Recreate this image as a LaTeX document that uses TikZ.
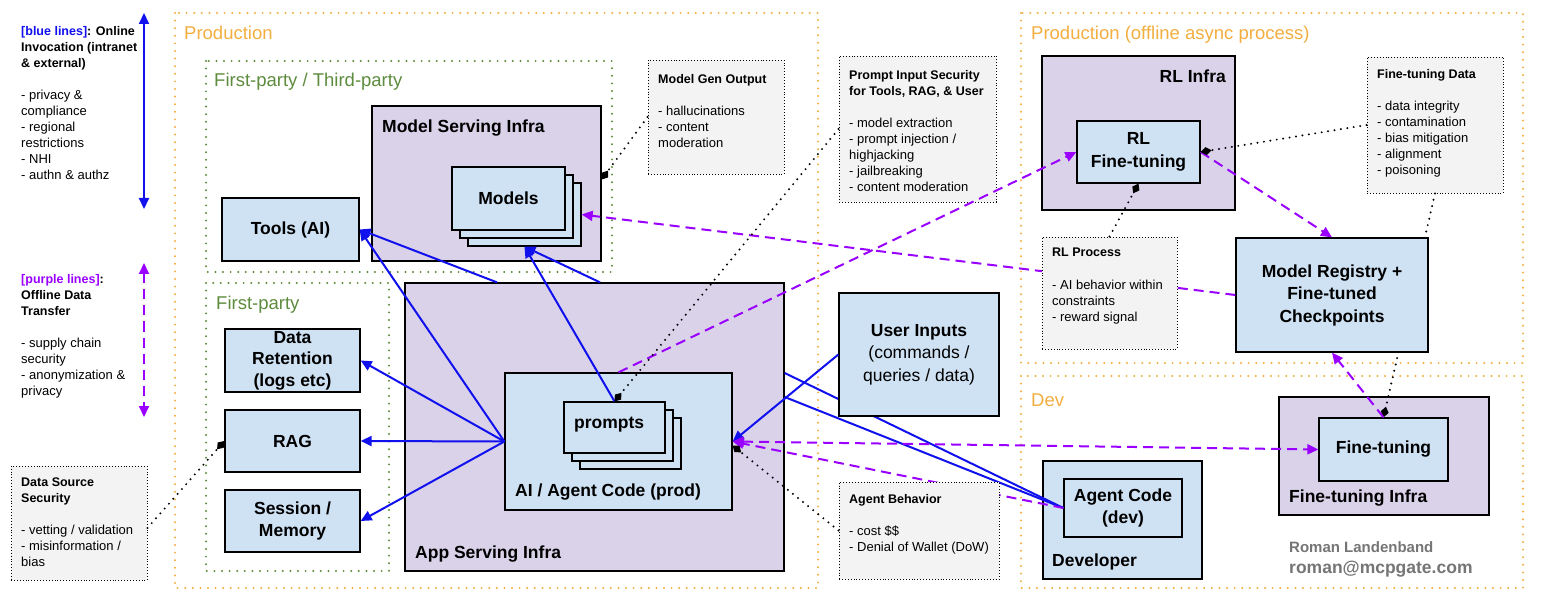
\documentclass[tikz,border=0pt]{standalone}
\usepackage{fontspec}
\setmainfont{Liberation Sans}
\usetikzlibrary{arrows.meta, calc}

\definecolor{infrablue}{HTML}{CFE2F3}
\definecolor{infrapurple}{HTML}{D9D2E9}
\definecolor{notegray}{HTML}{F3F3F3}
\definecolor{prodorange}{HTML}{F3AE40}
\definecolor{partygreen}{HTML}{5E8C3E}
\definecolor{onlineblue}{HTML}{1111EE}
\definecolor{offlinepurple}{HTML}{9900FF}
\definecolor{signgray}{HTML}{757575}

\newcommand\notehead[1]{{\fontsize{12.5}{16}\selectfont\bfseries #1}}

\begin{document}
\begin{tikzpicture}[x=1pt, y=-1pt, >={Triangle[length=11pt,width=10pt]},
  comp/.style={draw, line width=1.3pt, fill=infrablue, inner sep=0pt, align=center, font=\fontsize{17.5}{22.5}\selectfont\bfseries},
  infra/.style={draw, line width=1.3pt, fill=infrapurple, inner sep=0pt},
  boxlabel/.style={inner sep=0pt, font=\fontsize{17.5}{22.5}\selectfont\bfseries},
  zone/.style={line width=2.2pt, line cap=round, dash pattern=on 0pt off 7.6pt},
  zonelabel/.style={inner sep=0pt, anchor=base west, font=\fontsize{18.5}{22}\selectfont},
  note/.style={draw, fill=notegray, line width=0.9pt, dash pattern=on 0.9pt off 2pt, inner sep=0pt},
  notetext/.style={anchor=north west, inner sep=0pt, align=left, font=\fontsize{13}{16}\selectfont},
  online/.style={draw=onlineblue, line width=2pt},
  offline/.style={draw=offlinepurple, line width=2pt, dash pattern=on 10pt off 6pt},
  concern/.style={line width=2.2pt, line cap=round, dash pattern=on 0pt off 6.5pt, -{Diamond[length=11pt,width=8pt]}}]

\useasboundingbox (0,0) rectangle (1542,612);
\fill[white] (0,0) rectangle (1542,612);

% zones
\draw[zone, draw=prodorange] (175,13) rectangle (818,588);
\draw[zone, draw=prodorange] (1021,13) rectangle (1523,363);
\draw[zone, draw=prodorange] (1021,376) rectangle (1523,588);
\draw[zone, draw=partygreen] (206,61) rectangle (612,272);
\draw[zone, draw=partygreen] (206,283) rectangle (389,571);
\node[zonelabel, text=prodorange] (prodlbl) at (184,40) {Production};
\node[zonelabel, text=prodorange] (offlbl) at (1031,40) {Production (offline async process)};
\node[zonelabel, text=prodorange] (devlbl) at (1031,406) {Dev};
\node[zonelabel, text=partygreen] (thirdlbl) at (214,87) {First-party / Third-party};
\node[zonelabel, text=partygreen] (firstlbl) at (216,310) {First-party};

% legend
\coordinate (onlinetop) at (144,13);
\coordinate (onlinebot) at (144,209);
\coordinate (offlinetop) at (144,263);
\coordinate (offlinebot) at (144,417);
\draw[online, <->] (onlinetop) -- (onlinebot);
\draw[offline, <->] (offlinetop) -- (offlinebot);
\node[notetext] (onlinekey) at (21,26) {\notehead{\color{onlineblue}[blue lines]}\notehead{: Online}\\\notehead{Invocation (intranet}\\\notehead{\& external)}\\[16pt]- privacy \&\\compliance\\- regional\\restrictions\\- NHI\\- authn \& authz};
\node[notetext] (offlinekey) at (21,274) {\notehead{\color{offlinepurple}[purple lines]}\notehead{:}\\\notehead{Offline Data}\\\notehead{Transfer}\\[16pt]- supply chain\\security\\- anonymization \&\\privacy};

% production side
\node[infra, minimum width=229pt, minimum height=155pt] (modelinfra) at (486.5,183.5) {};
\node[boxlabel, anchor=base west] (modelinfralbl) at (382,133) {Model Serving Infra};
\node[comp, minimum width=113pt, minimum height=63pt] (models3) at (524.5,214.5) {};
\node[comp, minimum width=113pt, minimum height=63pt] (models2) at (516.5,206.5) {};
\node[comp, minimum width=113pt, minimum height=63pt] (models) at (508.5,198.5) {Models};
\node[comp, minimum width=137pt, minimum height=63pt] (tools) at (290.5,229.5) {Tools (AI)};
\node[comp, minimum width=135pt, minimum height=63pt, font=\fontsize{17.5}{21.5}\selectfont\bfseries] (retention) at (292.5,360.5) {Data\\Retention\\(logs etc)};
\node[comp, minimum width=135pt, minimum height=62pt] (rag) at (292.5,441) {RAG};
\node[comp, minimum width=135pt, minimum height=62pt] (session) at (292.5,521) {Session /\\Memory};

\node[infra, minimum width=379pt, minimum height=288pt] (appinfra) at (594.5,427) {};
\node[boxlabel, anchor=base west] (appinfralbl) at (415,558) {App Serving Infra};
\node[comp, minimum width=227pt, minimum height=137pt] (agent) at (618.5,441.5) {};
\node[boxlabel, anchor=base west] (agentlbl) at (515,496) {AI / Agent Code (prod)};
\node[comp, minimum width=101pt, minimum height=51pt] (prompts3) at (630.5,443.5) {};
\node[comp, minimum width=101pt, minimum height=51pt] (prompts2) at (622.5,435.5) {};
\node[comp, minimum width=101pt, minimum height=51pt] (prompts) at (614.5,427.5) {};
\node[boxlabel, anchor=base west] (promptslbl) at (574,428) {prompts};

% offline / dev side
\node[infra, minimum width=193pt, minimum height=154pt] (rlinfra) at (1138.5,133) {};
\node[boxlabel, anchor=base east] (rlinfralbl) at (1226,83) {RL Infra};
\node[comp, minimum width=123pt, minimum height=62pt] (rlft) at (1138.5,152) {RL\\Fine-tuning};
\node[infra, minimum width=210pt, minimum height=118pt] (ftinfra) at (1384,456) {};
\node[boxlabel, anchor=base west] (ftinfralbl) at (1289,502) {Fine-tuning Infra};
\node[comp, minimum width=129pt, minimum height=63pt] (ft) at (1383.5,449.5) {Fine-tuning};
\node[comp, minimum width=159pt, minimum height=118pt] (developer) at (1122.5,520) {};
\node[boxlabel, anchor=base west] (developerlbl) at (1052,566) {Developer};
\node[comp, minimum width=118pt, minimum height=58pt] (devcode) at (1123,508) {Agent Code\\(dev)};

\node[note, minimum width=136pt, minimum height=136pt] (ftdata) at (1435,125) {};
\node[notetext] (ftdatatxt) at (1377,69) {\notehead{Fine-tuning Data}\\[16pt]- data integrity\\- contamination\\- bias mitigation\\- alignment\\- poisoning};
\draw[concern] (ftdata.south) -- (ft.north);
\node[comp, minimum width=192pt, minimum height=114pt] (registry) at (1332,295) {Model Registry +\\Fine-tuned\\Checkpoints};

% lines running under the boxes and notes
\draw[online] ($(appinfra.east)+(0,-54)$) -- (devcode.west);
\draw[online] ($(appinfra.east)+(0,-30)$) -- (devcode.west);
\node[comp, minimum width=160pt, minimum height=123pt] (userin) at (919,354.5) {User Inputs\\\mdseries(commands /\\\mdseries queries / data)};

\draw[offline, ->] (registry.west) -- (models3.east);
\node[note, minimum width=135pt, minimum height=112pt] (rlproc) at (1109.5,293) {};
\node[notetext] (rlproctxt) at (1052,248) {\notehead{RL Process}\\[17pt]- AI behavior within\\constraints\\- reward signal};

\draw[offline, ->] (devcode.west) -- (agent.east);
\node[note, minimum width=160pt, minimum height=97pt] (agentbeh) at (919,530.5) {};
\node[notetext] (agentbehtxt) at (849,494) {\notehead{Agent Behavior}\\[16pt]- cost \$\$\\- Denial of Wallet (DoW)};

% notes
\node[note, minimum width=136pt, minimum height=114pt] (modelout) at (716,117) {};
\node[notetext] (modelouttxt) at (658,74) {\notehead{Model Gen Output}\\[16pt]- hallucinations\\- content\\moderation};
\node[note, minimum width=157pt, minimum height=146pt] (promptsec) at (917.5,129) {};
\node[notetext] (promptsectxt) at (849,70) {\notehead{Prompt Input Security}\\\notehead{for Tools, RAG, \& User}\\[16pt]- model extraction\\- prompt injection /\\highjacking\\- jailbreaking\\- content moderation};
\node[note, minimum width=136pt, minimum height=114pt] (datasrc) at (79,523) {};
\node[notetext] (datasrctxt) at (21,478) {\notehead{Data Source}\\\notehead{Security}\\[16pt]- vetting / validation\\- misinformation /\\bias};

% online calls
\draw[online, ->] (agent.west) -- (tools.east);
\draw[online, ->] (agent.west) -- (retention.east);
\draw[online, ->] (agent.west) -- (rag.east);
\draw[online, ->] (agent.west) -- (session.east);
\draw[online, ->] ($(appinfra.north)+(-97.5,0)$) -- (tools.east);
\draw[online, ->] ($(appinfra.north)+(5.5,0)$) -- (models3.south);
\draw[online, ->] (prompts.north) -- (models3.south);
\draw[online, ->] (userin.west) -- (agent.east);

% offline transfers
\draw[offline, <->] (agent.east) -- (ft.west);
\draw[offline, ->] (agent.north) -- (rlft.west);
\draw[offline, ->] (rlft.east) -- (registry.north);
\draw[offline, ->] (ft.north) -- (registry.south);

% security concerns
\draw[concern] (modelout.west) -- ($(modelinfra.east)+(0,-4)$);
\draw[concern] (promptsec.west) -- (prompts.north);
\draw[concern] (rlproc.north) -- (rlft.south);
\draw[concern] (ftdata.west) -- (rlft.east);
\draw[concern] (agentbeh.west) -- ($(agent.east)+(0,4)$);
\draw[concern] ($(datasrc.east)+(0,5)$) -- (rag.west);

% signature
\node[inner sep=0pt, anchor=base west, text=signgray, font=\fontsize{15}{18}\selectfont\bfseries] (author) at (1289,552) {Roman Landenband};
\node[inner sep=0pt, anchor=base west, text=signgray, font=\fontsize{17.5}{20}\selectfont\bfseries] (email) at (1289,573) {roman@mcpgate.com};

\end{tikzpicture}
\end{document}
